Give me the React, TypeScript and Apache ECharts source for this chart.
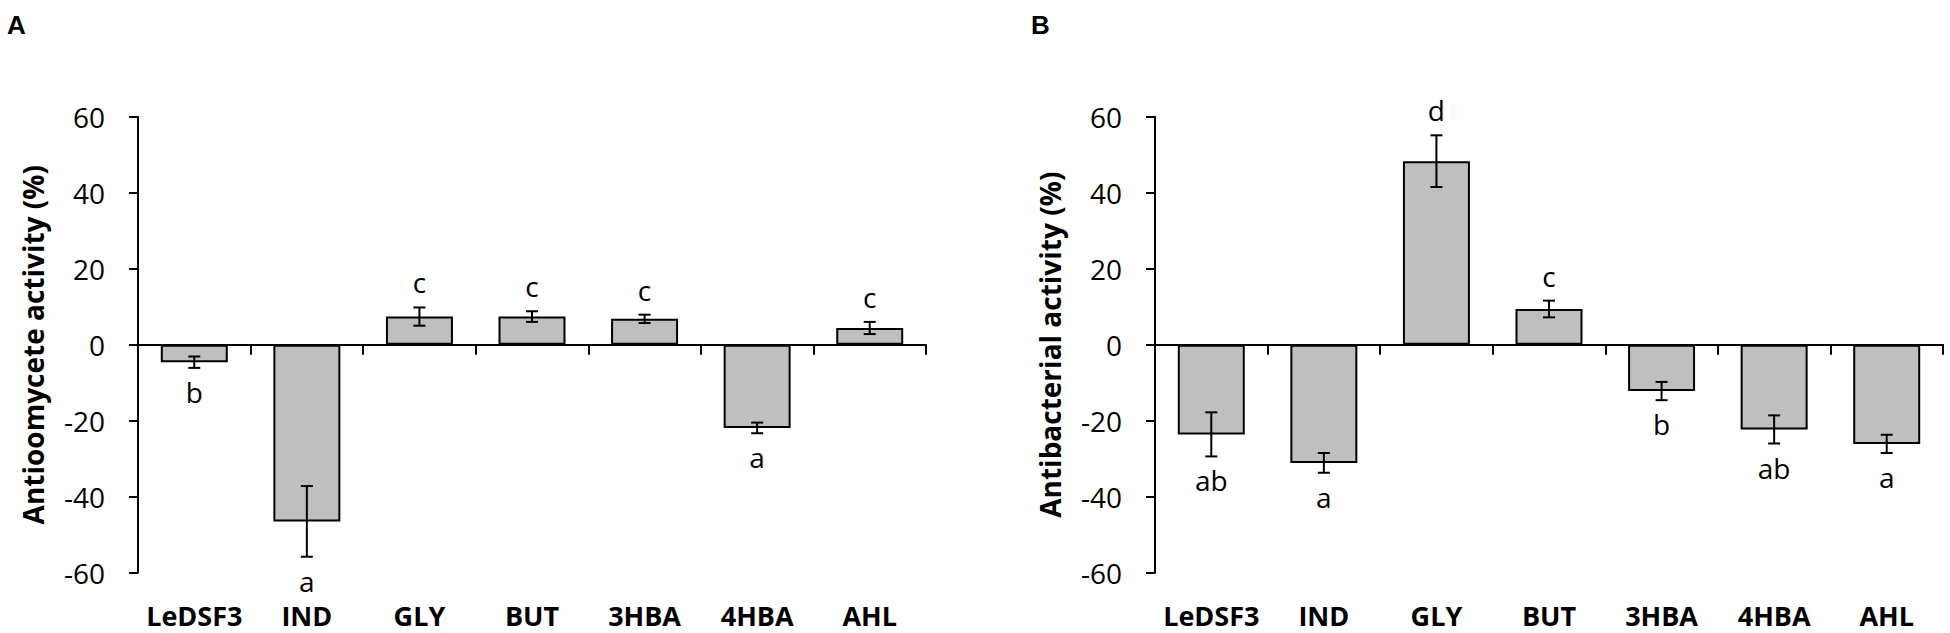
import React, { useEffect, useRef } from "react";
import * as echarts from "echarts";

const categories = ["LeDSF3", "IND", "GLY", "BUT", "3HBA", "4HBA", "AHL"];

const oomyceteMeans = [-4.6, -46.5, 7.4, 7.4, 6.8, -21.9, 4.4];
const oomyceteErrors = [1.5, 9.3, 2.4, 1.4, 1.1, 1.4, 1.6];
const oomyceteLetters = ["b", "a", "c", "c", "c", "a", "c"];

const bacterialMeans = [-23.6, -31.1, 48.3, 9.4, -12.2, -22.3, -26.1];
const bacterialErrors = [5.8, 2.6, 6.8, 2.2, 2.4, 3.7, 2.4];
const bacterialLetters = ["ab", "a", "d", "c", "b", "ab", "a"];

const panelTitles = ["Antioomycete activity (%)", "Antibacterial activity (%)"];
const panelLetters = ["A", "B"];

const FONT = "'Open Sans', 'Noto Sans', sans-serif";

export default function App() {
  const ref = useRef<HTMLDivElement>(null);

  useEffect(() => {
    if (!ref.current) return;
    const chart = echarts.init(ref.current, undefined, { renderer: "svg" });

    const panels = [
      { means: oomyceteMeans, errs: oomyceteErrors, letters: oomyceteLetters },
      { means: bacterialMeans, errs: bacterialErrors, letters: bacterialLetters },
    ];
    const grids = [
      { left: 138, top: 116.7, width: 788, height: 456 },
      { left: 1155, top: 116.7, width: 788, height: 456 },
    ];

    const xAxis: any[] = [];
    const yAxis: any[] = [];
    const series: any[] = [];

    panels.forEach((p, g) => {
      xAxis.push({
        gridIndex: g,
        type: "category",
        data: categories,
        position: "top",
        axisLine: { show: true, onZero: true, lineStyle: { color: "#000", width: 2 } },
        axisTick: { show: true, inside: true, length: 10, lineStyle: { color: "#000", width: 2 } },
        axisLabel: { show: false },
        splitLine: { show: false },
      });
      xAxis.push({
        gridIndex: g,
        type: "category",
        data: categories,
        position: "bottom",
        axisLine: { show: false, onZero: false },
        axisTick: { show: false },
        splitLine: { show: false },
        axisLabel: {
          interval: 0,
          fontSize: 27,
          lineHeight: 27,
          fontWeight: "bold",
          fontFamily: FONT,
          color: "#000",
          margin: 29,
        },
      });
      yAxis.push({
        gridIndex: g,
        type: "value",
        min: -60,
        max: 60,
        interval: 20,
        name: panelTitles[g],
        nameLocation: "middle",
        nameRotate: 90,
        nameGap: 91,
        nameTextStyle: { fontSize: 28, fontWeight: "bold", fontFamily: FONT, color: "#000" },
        axisLine: { show: true, lineStyle: { color: "#000", width: 2 } },
        axisTick: { show: true, length: 9, lineStyle: { color: "#000", width: 2 } },
        splitLine: { show: false },
        axisLabel: { fontSize: 28, fontFamily: FONT, color: "#000", margin: 33 },
      });
      series.push({
        type: "bar",
        xAxisIndex: g * 2,
        yAxisIndex: g,
        data: p.means,
        barWidth: "59.5%",
        itemStyle: { color: "#bfbfbf", borderColor: "#000", borderWidth: 2 },
        z: 2,
      });
      series.push({
        type: "custom",
        xAxisIndex: g * 2,
        yAxisIndex: g,
        z: 5,
        data: p.means.map((m, i) => [i, m, p.errs[i]]),
        renderItem: (params: any, api: any) => {
          const i = api.value(0);
          const m = api.value(1);
          const e = api.value(2);
          const hi = api.coord([i, m + e]);
          const lo = api.coord([i, m - e]);
          const x = hi[0];
          const half = 6;
          const ls = { stroke: "#000", lineWidth: 2 };
          const ty = m >= 0 ? hi[1] - 25 : lo[1] + 24;
          return {
            type: "group",
            children: [
              { type: "line", shape: { x1: x, y1: hi[1], x2: x, y2: lo[1] }, style: ls },
              { type: "line", shape: { x1: x - half, y1: hi[1], x2: x + half, y2: hi[1] }, style: ls },
              { type: "line", shape: { x1: x - half, y1: lo[1], x2: x + half, y2: lo[1] }, style: ls },
              {
                type: "text",
                x,
                y: ty,
                style: {
                  text: p.letters[params.dataIndex],
                  fill: "#000",
                  fontSize: 28,
                  lineHeight: 24,
                  fontFamily: FONT,
                  align: "center",
                  verticalAlign: "middle",
                },
              },
            ],
          };
        },
      });
    });

    chart.setOption({
      animation: false,
      backgroundColor: "#fff",
      grid: grids,
      xAxis,
      yAxis,
      series,
      graphic: [
        {
          type: "text",
          left: 7,
          top: 12,
          style: { text: panelLetters[0], fontSize: 26, fontWeight: "bold", fontFamily: "'Liberation Sans', Arial, sans-serif", fill: "#000" },
        },
        {
          type: "text",
          left: 1031,
          top: 12,
          style: { text: panelLetters[1], fontSize: 26, fontWeight: "bold", fontFamily: "'Liberation Sans', Arial, sans-serif", fill: "#000" },
        },
      ],
    });

    return () => chart.dispose();
  }, []);

  return (
    <div
      ref={ref}
      style={{ position: "fixed", left: 0, top: 0, width: 1950, height: 633, background: "#fff" }}
    />
  );
}
